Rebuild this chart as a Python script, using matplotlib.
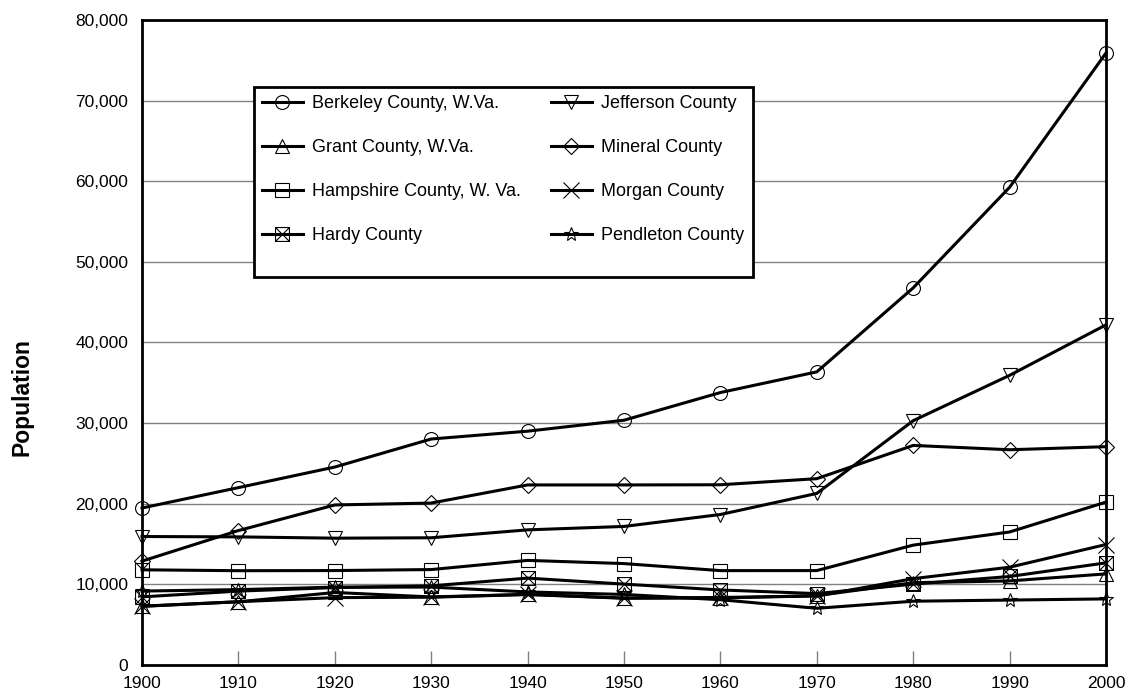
import matplotlib
matplotlib.use('Agg')
import matplotlib.pyplot as plt
from matplotlib.path import Path
from matplotlib.patches import Rectangle
from matplotlib.ticker import FuncFormatter

plt.rcParams['font.family'] = ['Liberation Sans', 'DejaVu Sans']

# census years and county populations
years = [1900, 1910, 1920, 1930, 1940, 1950, 1960, 1970, 1980, 1990, 2000]

berkeley = [19469, 21999, 24554, 28030, 28999, 30359, 33791, 36356, 46775, 59253, 75905]
grant = [7275, 7838, 8993, 8441, 8756, 8304, 8304, 8607, 10210, 10428, 11299]
hampshire = [11806, 11694, 11713, 11836, 12974, 12577, 11705, 11710, 14867, 16498, 20203]
hardy = [8449, 9163, 9601, 9816, 10776, 10032, 9308, 8855, 10030, 10977, 12669]
jefferson = [15935, 15889, 15729, 15780, 16762, 17184, 18665, 21280, 30302, 35926, 42190]
mineral = [12883, 16674, 19849, 20084, 22333, 22333, 22354, 23109, 27234, 26697, 27078]
morgan = [7294, 7848, 8357, 8406, 8743, 8276, 8376, 8547, 10711, 12128, 14943]
pendleton = [9167, 9349, 9652, 9660, 9060, 8750, 8093, 7031, 7910, 8054, 8196]

# box with an X inside, for Hardy County
boxx = Path([(-1, -1), (1, -1), (1, 1), (-1, 1), (-1, -1),
             (-1, -1), (1, 1), (-1, 1), (1, -1)],
            [Path.MOVETO, Path.LINETO, Path.LINETO, Path.LINETO, Path.CLOSEPOLY,
             Path.MOVETO, Path.LINETO, Path.MOVETO, Path.LINETO])

series = [
    ('Berkeley County, W.Va.', berkeley, 'o', 10),
    ('Grant County, W.Va.', grant, '^', 10),
    ('Hampshire County, W. Va.', hampshire, 's', 10),
    ('Hardy County', hardy, boxx, 10),
    ('Jefferson County', jefferson, 'v', 10),
    ('Mineral County', mineral, 'D', 8),
    ('Morgan County', morgan, 'x', 12),
    ('Pendleton County', pendleton, '*', 10),
]

fig = plt.figure(figsize=(11.28, 6.94), dpi=100)
ax = fig.add_axes([0.1259, 0.0418, 0.8546, 0.9294])

handles = []
for name, vals, mk, ms in series:
    ln, = ax.plot(years, vals, color='black', linewidth=2.2, marker=mk,
                  markersize=ms, markerfacecolor='none', markeredgecolor='black',
                  markeredgewidth=0.8, label=name, clip_on=False, zorder=3)
    handles.append(ln)

ax.set_xlim(1900, 2000)
ax.set_ylim(0, 80000)
ax.set_xticks(years)
ax.set_yticks(range(0, 80001, 10000))
ax.yaxis.set_major_formatter(FuncFormatter(lambda v, p: f'{int(v):,}'))

ax.grid(axis='y', color='#808080', linewidth=1.0)
ax.set_axisbelow(True)
ax.tick_params(axis='x', direction='in', length=10, width=1, color='#808080',
               labelsize=12.5, pad=8)
ax.tick_params(axis='y', direction='in', length=0, labelsize=12.5, pad=10)
for s in ax.spines.values():
    s.set_linewidth(2)

fig.text(0.0195, 0.428, 'Population', rotation=90, ha='center', va='center',
         fontsize=16.5, fontweight='bold')

# legend box drawn by hand, it has extra room under the last row
box = Rectangle((0.116, 0.6016), 0.518, 0.2944, transform=ax.transAxes,
                facecolor='white', edgecolor='black', linewidth=2, zorder=4)
ax.add_patch(box)
leg = ax.legend(handles=handles, ncol=2, loc='upper left',
                bbox_to_anchor=(0.116, 0.896), borderaxespad=0, fontsize=13,
                frameon=False, handlelength=2.27, labelspacing=1.5,
                columnspacing=1.65, borderpad=0.45, handletextpad=0.5)
leg.set_zorder(5)

fig.savefig('out.png', dpi=100)
